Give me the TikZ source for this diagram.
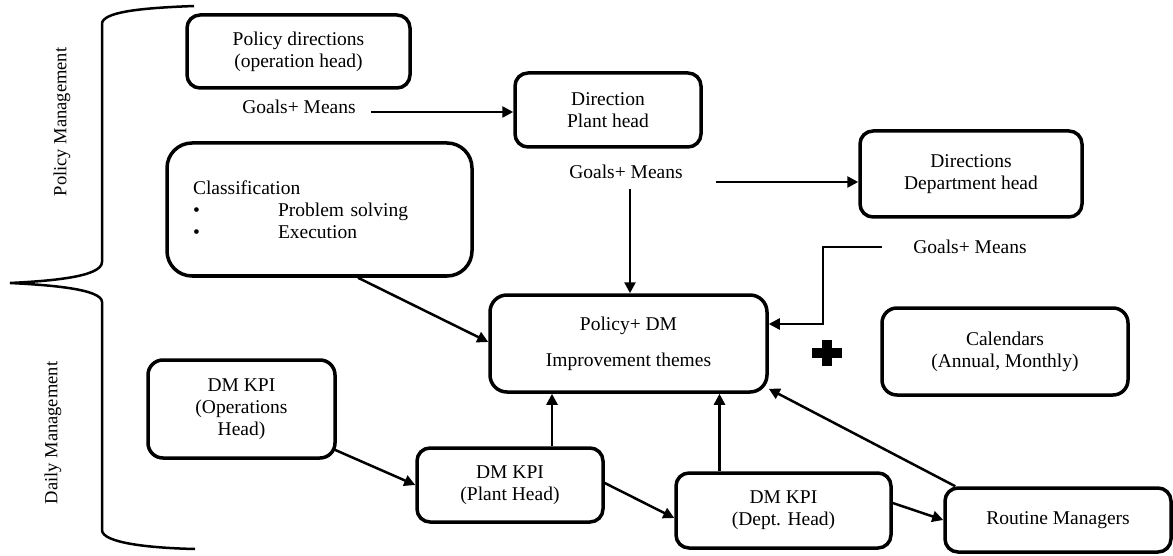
\documentclass[tikz,border=0pt]{standalone}
\usepackage{fontspec}
\setmainfont{Liberation Serif}
\usetikzlibrary{arrows.meta}
\begin{document}
\begin{tikzpicture}[x=1pt,y=-1pt,
 every node/.style={font=\fontsize{19.5}{22}\selectfont},
 box/.style={draw, line width=3.5pt, rounded corners=13pt, align=center, inner sep=0pt},
 lbl/.style={inner sep=0pt},
 sidelbl/.style={inner sep=0pt, rotate=90, font=\fontsize{18.5}{22}\selectfont},
 arr/.style={line width=2.5pt, -{Triangle[length=11pt,width=11pt]}},
 bracel/.style={line width=2.5pt}]
\useasboundingbox (0,0) rectangle (1173,556);

% braces and side labels
\draw[bracel] (194,6) .. controls (140,8) and (102,12) .. (102,24) -- (102,262)
  .. controls (102,277) and (50,281) .. (10,283)
  .. controls (50,285) and (102,289) .. (102,302) -- (102,530)
  .. controls (102,543) and (150,548) .. (195,549);
\node[sidelbl] (pm) at (62,122) {Policy Management};
\node[sidelbl] (dm) at (53,433) {Daily Management};

% boxes
\node[box, minimum width=223pt, minimum height=73pt] (pd) at (298.5,51.5) {Policy directions\\(operation head)};
\node[lbl] (g1) at (299,107) {Goals+ Means};
\node[box, minimum width=186pt, minimum height=74pt] (dp) at (608,110) {Direction\\Plant head};
\node[lbl] (g2) at (626,172) {Goals+ Means};
\node[box, minimum width=222pt, minimum height=86pt] (dd) at (971,174) {Directions\\Department head};
\node[lbl] (g3) at (970,247) {Goals+ Means};
\node[box, rounded corners=25pt, minimum width=305pt, minimum height=133pt, text width=253pt, align=left] (cl) at (319.5,209.5)
  {Classification\\ \makebox[85pt][l]{\textbullet}Problem solving\\ \makebox[85pt][l]{\textbullet}Execution};
\node[box, rounded corners=17pt, minimum width=277pt, minimum height=97pt] (pdm) at (628.5,343.5) {Policy+ DM\\[14pt]Improvement themes};
\node[box, rounded corners=15pt, minimum width=246pt, minimum height=87pt] (cal) at (1005,351.5) {Calendars\\(Annual, Monthly)};
\node[box, rounded corners=15pt, minimum width=187pt, minimum height=98pt] (ops) at (241.5,409) {DM KPI\\(Operations\\Head)};
\node[box, minimum width=186pt, minimum height=74pt] (plant) at (510,485) {DM KPI\\(Plant Head)};
\node[box, minimum width=215pt, minimum height=75pt] (dept) at (783.5,510.5) {DM KPI\\(Dept. Head)};
\node[box, minimum width=226pt, minimum height=64pt] (rm) at (1058,520) {Routine Managers};

% plus sign
\fill (812,348) rectangle (842,358);
\fill (822,340) rectangle (832,366);

% connectors
\draw[arr] ([xshift=15pt,yshift=-5pt]g1.east) -- ([yshift=-2pt]dp.west);
\draw[arr] ([xshift=33pt,yshift=-10pt]g2.east) -- ([yshift=-8pt]dd.west);
\draw[arr] ([xshift=4pt,yshift=-10pt]g2.south) -- ([xshift=1.5pt]pdm.north);
\coordinate (bend) at (823,247);
\draw[arr] ([xshift=-31pt]g3.west) -- (bend) |- ([yshift=19.5pt]pdm.east);
\draw[arr] ([xshift=38.5pt]cl.south) -- ([yshift=1.5pt]pdm.west);
\draw[arr] ([xshift=-2pt,yshift=10pt]ops.south east) -- (plant.west);
\draw[arr] ([xshift=42pt]plant.north) -- ([xshift=-76.5pt]pdm.south);
\draw[arr] ([yshift=2pt]plant.east) -- ([yshift=-7.5pt]dept.west);
\draw[arr] ([xshift=-64pt]dept.north) -- ([xshift=91pt]pdm.south);
\draw[arr] ([yshift=7.5pt]dept.east) -- (rm.west);
\draw[arr] ([xshift=12pt]rm.north west) -- ([yshift=5pt]pdm.south east);
\end{tikzpicture}
\end{document}
